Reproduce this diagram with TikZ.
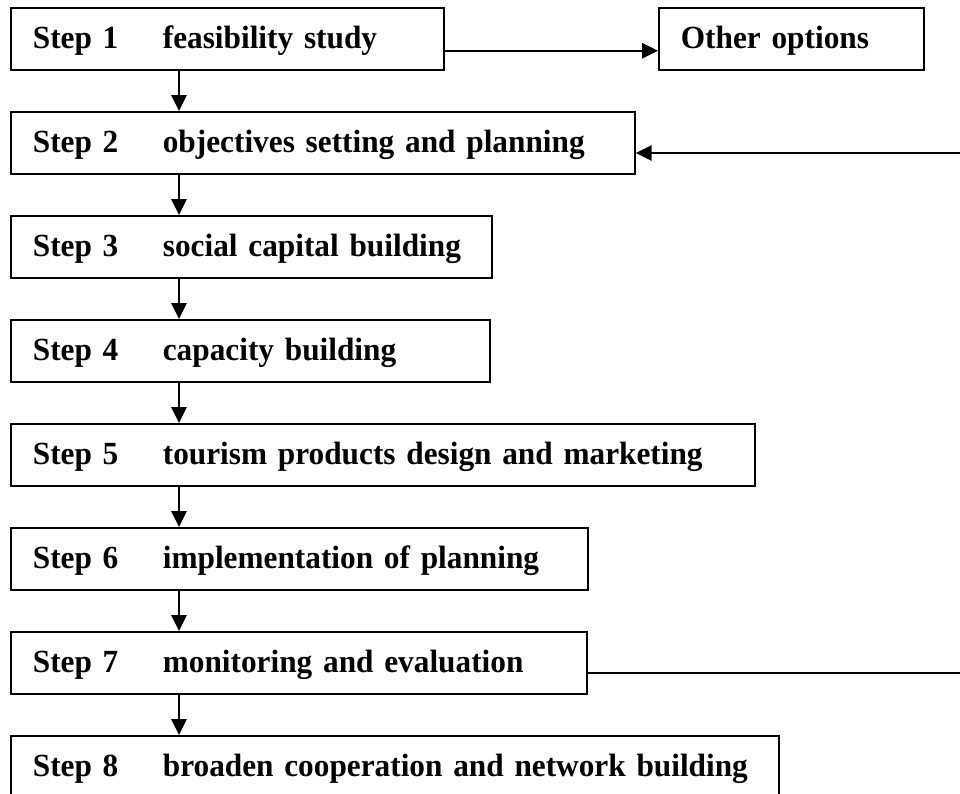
\documentclass[tikz,border=0pt]{standalone}
\usepackage{fontspec}
\setmainfont{Liberation Serif}[WordSpace=0.6,FakeStretch=0.97]
\usetikzlibrary{arrows.meta}

\newcommand{\stepitem}[2]{\mbox{\makebox[97.5pt][l]{Step #1}#2}}

\begin{document}
\begin{tikzpicture}[x=0.75pt,y=-0.75pt,
  stepbox/.style={draw=black,line width=1.3pt,anchor=north west,align=left,
    inner xsep=16.5pt,inner ysep=0pt,text height=30.75pt,text depth=15.75pt,
    font=\fontsize{24.2pt}{28pt}\selectfont\bfseries},
  flow/.style={line width=1.3pt,-{Triangle[length=12pt,width=11.5pt]}},
  link/.style={line width=1.3pt}]
\clip (0,0) rectangle (960,793);
\node[stepbox,text width=291.75pt] (step1) at (10,7)   {\stepitem{1}{feasibility study}};
\node[stepbox,text width=165.75pt] (other) at (658,7)  {\mbox{Other options}};
\node[stepbox,text width=435pt]    (step2) at (10,111) {\stepitem{2}{objectives setting and planning}};
\node[stepbox,text width=327.75pt] (step3) at (10,215) {\stepitem{3}{social capital building}};
\node[stepbox,text width=326.25pt] (step4) at (10,319) {\stepitem{4}{capacity building}};
\node[stepbox,text width=525pt]    (step5) at (10,423) {\stepitem{5}{tourism products design and marketing}};
\node[stepbox,text width=399.75pt] (step6) at (10,527) {\stepitem{6}{implementation of planning}};
\node[stepbox,text width=399pt]    (step7) at (10,631) {\stepitem{7}{monitoring and evaluation}};
\node[stepbox,text width=543pt]    (step8) at (10,735) {\stepitem{8}{broaden cooperation and network building}};
\coordinate (loopout) at (960,673);
\coordinate (loopin) at (960,153);
\foreach \a/\b in {1/2,2/3,3/4,4/5,5/6,6/7,7/8}
  \draw[flow] ([xshift=126.75pt]step\a.south west) -- ([xshift=126.75pt]step\b.north west);
\draw[flow] ([yshift=15pt]step1.south east) -- ([yshift=15pt]other.south west);
\draw[link] (loopout -| step7.east) -- (loopout);
\draw[flow] (loopin) -- (loopin -| step2.east);
\end{tikzpicture}
\end{document}
